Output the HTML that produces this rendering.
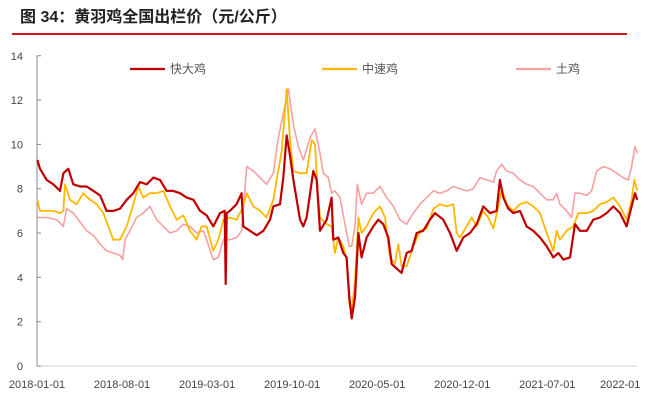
<!DOCTYPE html>
<html><head><meta charset="utf-8">
<style>
html,body{margin:0;padding:0;background:#fff;}
svg text{font-family:"Liberation Sans","Noto Sans CJK SC",sans-serif;}
</style></head>
<body>
<svg id="chart" width="650" height="402" viewBox="0 0 650 402" xmlns="http://www.w3.org/2000/svg">
<text x="20" y="22" font-size="16" font-weight="bold" fill="#222">图 34：黄羽鸡全国出栏价（元/公斤）</text>
<line x1="12" y1="34" x2="627" y2="34" stroke="#d0161c" stroke-width="2"/>
<g id="axes"></g>
<g id="series"></g>
<g id="legend"></g>
</svg>
<script>
// time in months since 2018-01-01
const yTicks=[0,2,4,6,8,10,12,14];
const xTickMonths=[0,7,14,21,28,35,42,48];
const xTickLabels=["2018-01-01","2018-08-01","2019-03-01","2019-10-01","2020-05-01","2020-12-01","2021-07-01","2022-01"];
const seriesNames=["快大鸡","中速鸡","土鸡"];
const redT=[0.03,0.25,0.80,1.34,1.89,2.17,2.58,2.99,3.54,4.09,4.64,5.19,5.73,6.28,6.83,7.38,7.93,8.48,9.03,9.57,10.12,10.67,11.22,11.77,12.32,12.87,13.42,13.96,14.51,15.06,15.45,15.53,15.61,15.88,16.43,16.84,16.98,17.53,18.08,18.63,19.18,19.45,20.00,20.27,20.55,20.82,21.10,21.65,21.92,22.19,22.74,23.02,23.29,23.84,24.25,24.39,24.80,25.21,25.48,25.70,25.90,26.17,26.45,26.72,27.13,27.68,28.09,28.50,28.91,29.19,29.60,30.01,30.42,30.83,31.25,31.79,32.34,32.76,33.44,33.99,34.54,35.09,35.64,36.18,36.73,37.28,37.83,38.10,38.38,38.79,39.20,39.75,40.30,40.85,41.40,41.95,42.49,42.91,43.32,43.87,44.28,44.69,45.24,45.79,46.34,46.88,47.43,47.98,48.53,48.94,49.22,49.41];
const redV=[9.3,8.9,8.4,8.2,7.9,8.7,8.9,8.2,8.1,8.1,7.9,7.7,7.0,7.0,7.1,7.5,7.8,8.3,8.2,8.5,8.4,7.9,7.9,7.8,7.6,7.5,7.0,6.8,6.3,6.9,7.0,3.7,6.9,7.0,7.3,7.8,6.3,6.1,5.9,6.1,6.6,7.2,7.3,8.5,10.4,9.5,8.4,6.6,6.3,6.7,8.8,8.4,6.1,6.6,7.6,5.7,5.8,5.1,4.9,3.1,2.15,3.1,6.0,4.9,5.8,6.3,6.6,6.4,5.8,4.6,4.4,4.2,5.1,5.2,6.0,6.1,6.6,6.9,6.6,6.0,5.2,5.8,6.0,6.4,7.2,6.9,7.0,8.4,7.6,7.1,6.9,7.0,6.3,6.1,5.8,5.4,4.9,5.1,4.8,4.9,6.4,6.1,6.1,6.6,6.7,6.9,7.2,6.9,6.3,7.2,7.8,7.5];
const yelT=[0.03,0.25,0.80,1.34,1.89,2.17,2.30,2.72,3.26,3.81,4.36,4.91,5.46,6.01,6.28,6.83,7.38,7.93,8.34,8.75,9.30,9.85,10.40,10.95,11.50,12.04,12.59,13.14,13.55,13.96,14.51,14.92,15.34,15.88,16.43,16.98,17.26,17.81,18.35,18.90,19.45,19.73,20.14,20.55,20.82,21.10,21.65,22.19,22.61,22.88,23.10,23.29,23.84,24.25,24.52,24.80,25.21,25.48,25.70,25.90,26.17,26.45,26.72,27.13,27.68,28.23,28.64,29.05,29.46,29.74,30.01,30.42,30.97,31.52,32.07,32.62,33.17,33.72,34.26,34.54,34.81,35.36,35.77,36.18,36.73,37.14,37.56,37.97,38.24,38.65,39.20,39.75,40.30,40.85,41.40,41.95,42.49,42.77,43.04,43.59,44.14,44.55,45.24,45.79,46.34,46.88,47.43,47.98,48.53,48.94,49.16,49.41];
const yelV=[7.5,7.0,7.0,7.0,6.9,7.0,8.2,7.5,7.3,7.8,7.5,7.3,6.9,6.1,5.7,5.7,6.3,7.3,8.1,7.6,7.8,7.8,7.9,7.2,6.6,6.8,6.1,5.7,6.3,6.3,5.2,5.7,6.6,6.7,6.6,7.2,7.8,7.2,7.0,6.7,7.5,8.4,9.7,12.5,10.2,8.8,8.7,8.7,10.2,10.0,7.9,6.7,6.4,6.3,5.1,5.8,5.4,4.8,2.8,2.4,3.9,6.7,6.0,6.3,6.9,7.2,6.7,4.9,4.6,5.5,4.5,4.5,5.4,6.1,6.2,7.1,7.3,7.2,7.3,6.0,5.8,6.3,6.7,6.3,7.0,6.7,6.2,7.2,8.0,7.3,7.0,7.3,7.4,7.2,6.9,6.0,5.2,6.1,5.7,6.1,6.3,6.9,6.9,7.0,7.3,7.4,7.6,7.2,6.6,7.5,8.4,7.9];
const pinkT=[0.03,0.80,1.62,2.17,2.44,2.99,3.54,4.09,4.64,5.19,5.73,6.28,6.83,7.05,7.24,7.65,8.20,8.75,9.30,9.85,10.40,10.95,11.50,12.04,12.59,13.14,13.69,13.96,14.51,14.92,15.34,15.88,16.43,16.84,17.26,17.81,18.35,18.90,19.45,19.86,20.27,20.69,21.10,21.51,21.92,22.47,22.88,23.29,23.56,23.98,24.25,24.52,24.94,25.35,25.70,25.90,26.17,26.36,26.72,27.13,27.68,28.23,28.78,29.33,29.87,30.42,30.97,31.52,32.07,32.62,33.17,33.72,34.26,34.81,35.36,35.91,36.46,37.01,37.56,37.83,38.24,38.65,39.20,39.75,40.30,40.85,41.40,41.95,42.49,42.77,43.04,43.59,44.00,44.28,44.69,45.24,45.65,46.06,46.61,47.16,47.71,48.25,48.67,48.94,49.22,49.41];
const pinkV=[6.7,6.7,6.6,6.3,7.1,6.9,6.5,6.1,5.9,5.5,5.2,5.1,5.0,4.8,5.7,6.1,6.7,6.9,7.2,6.6,6.3,6.0,6.1,6.4,6.3,6.0,6.1,5.7,4.8,4.9,5.7,5.7,5.8,6.1,9.0,8.8,8.5,8.2,8.7,10.3,11.4,12.5,10.9,9.9,9.3,10.3,10.7,9.6,8.7,8.5,7.8,7.9,7.6,6.4,5.4,5.4,6.3,8.2,7.3,7.8,7.8,8.1,7.6,7.2,6.6,6.4,6.9,7.3,7.6,7.9,7.8,7.9,8.1,8.0,7.9,8.0,8.5,8.4,8.3,8.8,9.1,8.8,8.7,8.4,8.2,8.1,7.8,7.5,7.5,7.8,7.3,7.0,6.7,7.8,7.8,7.7,7.9,8.8,9.0,8.9,8.7,8.5,8.4,9.0,9.9,9.6];

const NS="http://www.w3.org/2000/svg";
const X0=37,PXM=12.15,Y0=366,PXV=22.16;
function xs(m){return X0+m*PXM;}
function ys(v){return Y0-v*PXV;}
function mk(tag,attrs,parent){const e=document.createElementNS(NS,tag);for(const k in attrs)e.setAttribute(k,attrs[k]);parent.appendChild(e);return e;}
const axes=document.getElementById('axes');
let yl=mk('line',{x1:X0,y1:ys(14),x2:X0,y2:Y0,stroke:'#888','stroke-width':1},axes);


let xl=mk('line',{x1:X0,y1:Y0,x2:637,y2:Y0,stroke:'#ccc','stroke-width':1},axes);


yTicks.forEach(v=>{
  const t=mk('line',{x1:X0,y1:ys(v),x2:X0+4,y2:ys(v),stroke:'#888','stroke-width':1},axes);
  
  
  const tx=mk('text',{x:23,y:ys(v)+4,'font-size':11,fill:'#444','text-anchor':'end'},axes);
  
  
  tx.textContent=v;
});
xTickMonths.forEach((m,i)=>{
  const tx=mk('text',{x:xs(m),y:388,'font-size':11,fill:'#444','text-anchor':'middle'},axes);
  
  
  tx.textContent=xTickLabels[i];
});
const sg=document.getElementById('series');
function drawLine(T,V,color,w,name){
  const d=T.map((t,i)=>(i?'L':'M')+xs(t).toFixed(1)+','+ys(V[i]).toFixed(1)).join('');
  const p=mk('path',{d:d,fill:'none',stroke:color,'stroke-width':w,'stroke-linejoin':'round'},sg);
  
  
}
drawLine(pinkT,pinkV,'#f7a0a0',1.6,'series-tuji');
drawLine(yelT,yelV,'#ffb800',1.8,'series-zhongsuji');
drawLine(redT,redV,'#c00000',2.2,'series-kuaidaji');
const lg=document.getElementById('legend');
const colors=['#c00000','#ffb800','#f7a0a0'];
const lx=[130,322,516];
seriesNames.forEach((n,i)=>{
  const l=mk('line',{x1:lx[i],y1:69,x2:lx[i]+35,y2:69,stroke:colors[i],'stroke-width':2.2},lg);
  
  
  const t=mk('text',{x:lx[i]+40,y:73,'font-size':12,fill:'#555'},lg);
  
  
  t.textContent=n;
});
</script>
</body></html>
